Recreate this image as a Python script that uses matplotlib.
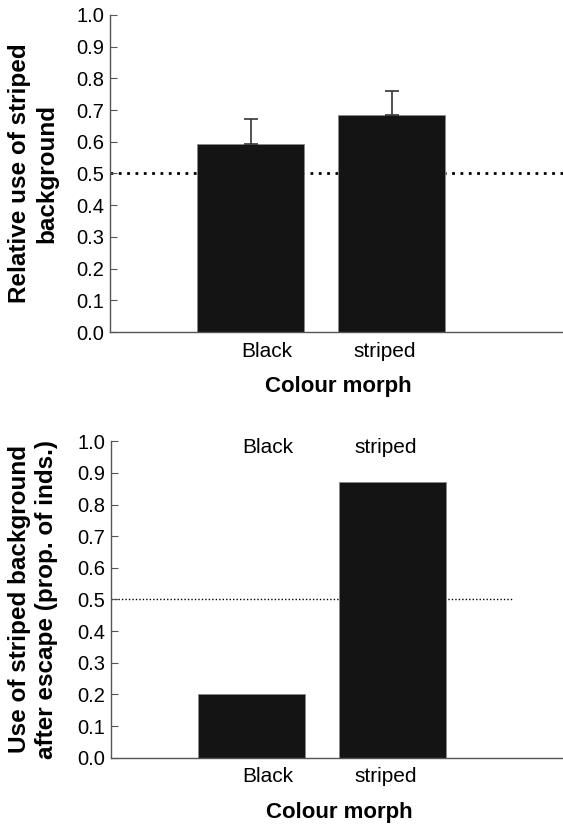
import numpy as np
import matplotlib
matplotlib.use("Agg")
import matplotlib.pyplot as plt

plt.rcParams["font.family"] = ["Liberation Sans", "DejaVu Sans"]

# data
morphs = ["Black", "striped"]
rel_use = [0.593, 0.683]
rel_err = [0.079, 0.077]
escape_use = [0.20, 0.87]
chance = 0.5

yticks = np.round(np.arange(0, 1.01, 0.1), 1)
xpos = np.array([1, 2])
label_pos = [1.115, 1.953]
bar_col = "#141414"
axis_col = "#555555"


def style_axes(ax):
    ax.set_xlim(0, 3.24)
    ax.set_ylim(0, 1.0)
    ax.set_yticks(yticks)
    ax.set_yticklabels([f"{t:.1f}" for t in yticks], fontsize=14.5)
    ax.tick_params(axis="y", direction="in", length=5, width=0.8, color=axis_col, pad=4)
    ax.set_xticks(label_pos)
    ax.set_xticklabels(morphs, fontsize=15)
    ax.tick_params(axis="x", length=0, pad=7)
    for s in ["top", "right"]:
        ax.spines[s].set_visible(False)
    for s in ["left", "bottom"]:
        ax.spines[s].set_color(axis_col)
        ax.spines[s].set_linewidth(1.0)
    ax.set_xlabel("Colour morph", fontsize=16, fontweight="bold", labelpad=11)


fig = plt.figure(figsize=(5.63, 8.24), dpi=100)

# top panel
ax1 = fig.add_axes([0.1954, 0.597, 0.81, 0.385])
ax1.axhline(chance, color="black", lw=2, ls=(0, (1, 2)), zorder=1)
ax1.bar(xpos, rel_use, width=0.76, color=bar_col, edgecolor="#888888", linewidth=0.6, zorder=2)
ax1.errorbar(xpos, rel_use, yerr=[np.zeros(2), rel_err], fmt="none",
             ecolor="#333333", elinewidth=1.2, capsize=5, capthick=1.2, zorder=3)
style_axes(ax1)
ax1.set_ylabel("Relative use of striped\nbackground", fontsize=17.5,
               fontweight="bold", linespacing=1.2)
ax1.yaxis.set_label_coords(-0.114, 0.5)

# bottom panel
ax2 = fig.add_axes([0.197, 0.0805, 0.81, 0.384])
ax2.plot([0, 2.86], [chance, chance], color="black", lw=1, ls=(0, (1, 1.5)), zorder=1)
ax2.bar(xpos, escape_use, width=0.76, color=bar_col, edgecolor="#888888", linewidth=0.6, zorder=2)
style_axes(ax2)
for xp, m in zip(label_pos, morphs):
    ax2.text(xp, 0.98, m, ha="center", va="center", fontsize=15)
ax2.set_ylabel("Use of striped background\nafter escape (prop. of inds.)", fontsize=17.5,
               fontweight="bold", linespacing=1.2)
ax2.yaxis.set_label_coords(-0.116, 0.5)

fig.savefig("out.png", dpi=100)
